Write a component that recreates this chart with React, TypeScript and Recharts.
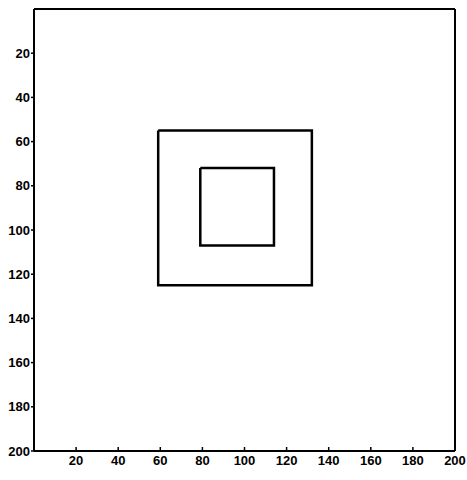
import { ComposedChart, Scatter, XAxis, YAxis } from 'recharts';

// corners of the two squares, closed (first point repeated at the end)
const outerX = [59, 132, 132, 59, 59];
const outerY = [55, 55, 125, 125, 55];
const innerX = [79, 114, 114, 79, 79];
const innerY = [72, 72, 107, 107, 72];

const xTicks = [20, 40, 60, 80, 100, 120, 140, 160, 180, 200];
const yTicks = [20, 40, 60, 80, 100, 120, 140, 160, 180, 200];

const outer = outerX.map((x, i) => ({ x, y: outerY[i] }));
const inner = innerX.map((x, i) => ({ x, y: innerY[i] }));

const tickStyle = { fontSize: 13, fontWeight: 700, fill: '#000', fontFamily: 'Liberation Sans, Arial, sans-serif' };
const axisLine = { stroke: '#000', strokeWidth: 2 };
const noDot = () => null;

export default function App() {
  return (
    <div style={{ position: 'absolute', left: 0, top: 0, background: '#fff' }}>
      <ComposedChart width={467} height={480} margin={{ top: 1, right: 4, left: 0, bottom: 0 }}>
        <XAxis
          dataKey="x"
          type="number"
          domain={[0, 200]}
          ticks={xTicks}
          tick={tickStyle}
          tickSize={-4}
          tickMargin={9}
          axisLine={axisLine}
          tickLine={{ stroke: '#000', strokeWidth: 1.5 }}
          height={29}
          allowDataOverflow
        />
        <XAxis
          xAxisId="top"
          dataKey="x"
          orientation="top"
          type="number"
          domain={[0, 200]}
          ticks={xTicks}
          tick={false}
          tickSize={-4}
          axisLine={axisLine}
          tickLine={{ stroke: '#000', strokeWidth: 1.5 }}
          height={8}
          allowDataOverflow
        />
        <YAxis
          dataKey="y"
          type="number"
          reversed
          domain={[0, 200]}
          ticks={yTicks}
          tick={tickStyle}
          tickSize={3}
          tickMargin={1}
          axisLine={axisLine}
          tickLine={{ stroke: '#000', strokeWidth: 1.5 }}
          width={34}
          allowDataOverflow
        />
        <YAxis
          yAxisId="right"
          dataKey="y"
          orientation="right"
          type="number"
          reversed
          domain={[0, 200]}
          ticks={yTicks}
          tick={false}
          tickSize={-4}
          axisLine={axisLine}
          tickLine={{ stroke: '#000', strokeWidth: 1.5 }}
          width={8}
          allowDataOverflow
        />
        <Scatter
          data={outer}
          line={{ stroke: '#000', strokeWidth: 2.5 }}
          lineJointType="linear"
          shape={noDot}
          isAnimationActive={false}
        />
        <Scatter
          data={inner}
          line={{ stroke: '#000', strokeWidth: 2.5 }}
          lineJointType="linear"
          shape={noDot}
          isAnimationActive={false}
        />
        {/* invisible series so the top and right box axes get drawn */}
        <Scatter
          xAxisId="top"
          yAxisId="right"
          data={inner}
          shape={noDot}
          isAnimationActive={false}
        />
      </ComposedChart>
    </div>
  );
}
